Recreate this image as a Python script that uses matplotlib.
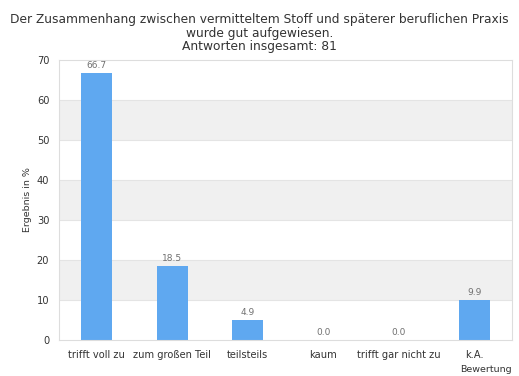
import matplotlib.pyplot as plt
import numpy as np

categories = ['trifft voll zu', 'zum großen Teil', 'teilsteils', 'kaum',
              'trifft gar nicht zu', 'k.A.']
values = [66.7, 18.5, 4.9, 0.0, 0.0, 9.9]
yticks = [0, 10, 20, 30, 40, 50, 60, 70]

fig = plt.figure(figsize=(5.19, 3.76), dpi=100)
ax = fig.add_axes([59 / 519, 36 / 376, 453 / 519, 280 / 376])

x = np.arange(len(categories))

# alternating grey bands behind the bars
for lo in (10, 30, 50):
    ax.axhspan(lo, lo + 10, color='#f0f0f0', zorder=0, lw=0)
for t in yticks[1:-1]:
    ax.axhline(t, color='#e4e4e4', lw=0.8, zorder=0.5)

ax.bar(x, values, width=0.41, color='#5fa8f0', zorder=2)
for xi, v in zip(x, values):
    ax.text(xi, v + 0.8, '%.1f' % v, ha='center', va='bottom',
            fontsize=6.5, color='#707070')

ax.set_xlim(-0.5, len(categories) - 0.5)
ax.set_ylim(0, 70)
ax.set_yticks(yticks)
ax.set_xticks(x)
ax.set_xticklabels(categories)
ax.tick_params(axis='both', length=0, labelsize=7.1, colors='#333333')
ax.tick_params(axis='x', pad=7)
ax.tick_params(axis='y', pad=7)
for s in ax.spines.values():
    s.set_color('#dddddd')
    s.set_linewidth(0.8)

ax.set_ylabel('Ergebnis in %', fontsize=6.8, color='#333333', labelpad=3)
ax.set_xlabel('Bewertung', fontsize=6.8, color='#333333', loc='right',
              labelpad=4)

fig.text(0.5, 1 - 33 / 376,
         'Der Zusammenhang zwischen vermitteltem Stoff und späterer beruflichen Praxis\n'
         'wurde gut aufgewiesen.\nAntworten insgesamt: 81',
         ha='center', va='center', fontsize=8.8, color='#333333',
         linespacing=1.08)

fig.savefig('out.png', dpi=100)
